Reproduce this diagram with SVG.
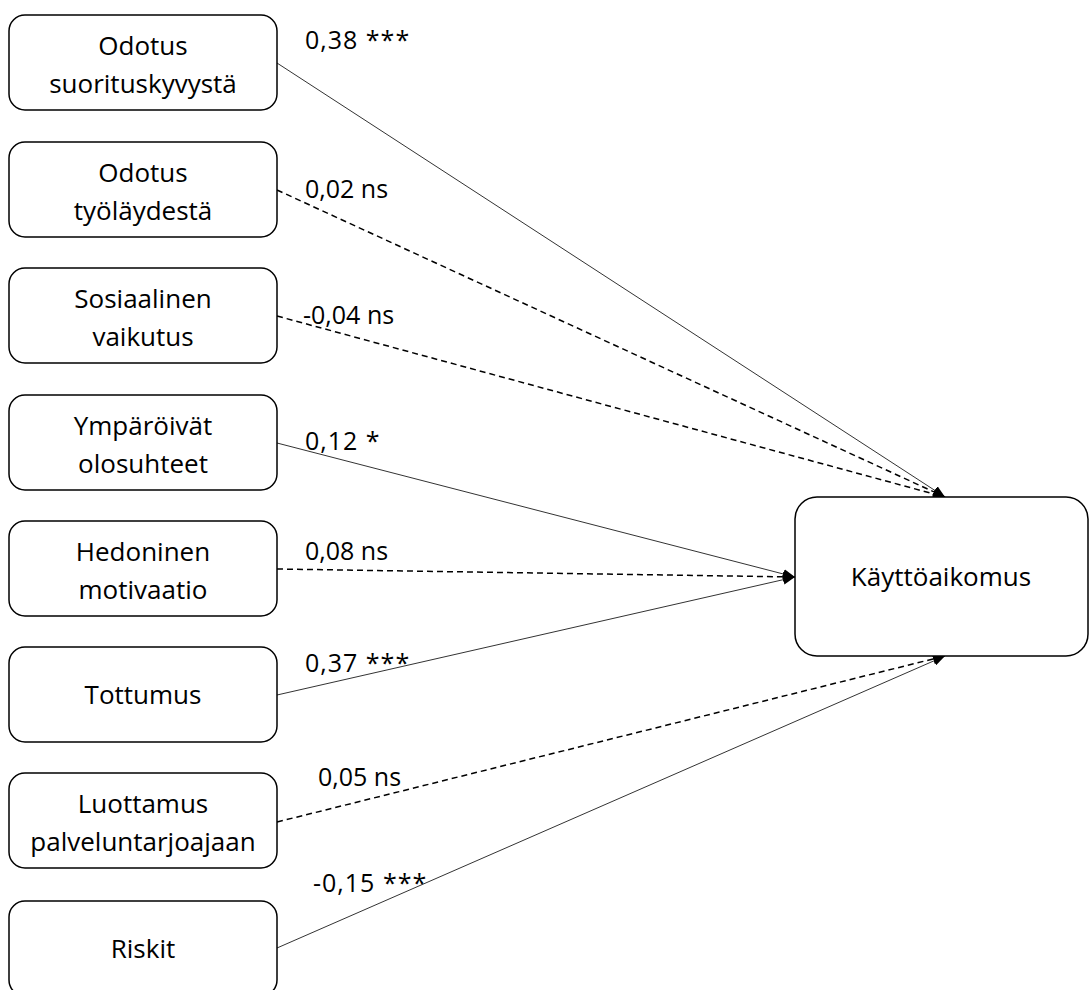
<svg xmlns="http://www.w3.org/2000/svg" width="1089" height="990" viewBox="0 0 1089 990">
<style>
.box{fill:#fff;stroke:#000;stroke-width:1.5}
.t{font-family:"Open Sans","Liberation Sans",sans-serif;font-size:26px;fill:#000;text-anchor:middle}
.l{font-family:"Open Sans","Liberation Sans",sans-serif;font-size:25px;fill:#000}
.s{fill:none;stroke:#333;stroke-width:1;marker-end:url(#ah)}
.d{fill:none;stroke:#000;stroke-width:1.5;stroke-dasharray:6 4;marker-end:url(#ah)}
</style>
<defs>
<marker id="ah" markerUnits="userSpaceOnUse" markerWidth="12" markerHeight="10" refX="12" refY="5" orient="auto">
<path d="M0,0 L12,5 L0,10 Z" fill="#000"/>
</marker>
</defs>
<rect width="1089" height="990" fill="#fff"/>
<g id="connectors">
<line class="s" x1="277" y1="63" x2="945" y2="497"/>
<line class="d" x1="277" y1="190" x2="945" y2="497"/>
<line class="d" x1="277" y1="316" x2="945" y2="497"/>
<line class="s" x1="277" y1="443" x2="795" y2="577"/>
<line class="d" x1="277" y1="569" x2="795" y2="577"/>
<line class="s" x1="277" y1="695" x2="795" y2="577"/>
<line class="d" x1="277" y1="822" x2="945" y2="656"/>
<line class="s" x1="277" y1="948" x2="945" y2="656"/>
</g>
<g id="labels">
<text class="l" x="305" y="49" letter-spacing="1">0,38 ***</text>
<text class="l" x="305" y="198">0,02 ns</text>
<text class="l" x="303" y="324">-0,04 ns</text>
<text class="l" x="305" y="450" letter-spacing="1">0,12 *</text>
<text class="l" x="305" y="560">0,08 ns</text>
<text class="l" x="305" y="672" letter-spacing="1">0,37 ***</text>
<text class="l" x="318" y="786">0,05 ns</text>
<text class="l" x="313" y="892" letter-spacing="1">-0,15 ***</text>
</g>
<g id="n1"><rect class="box" x="9" y="15" width="268" height="95" rx="16"/><text class="t" x="143" y="55">Odotus</text><text class="t" x="143" y="93">suorituskyvystä</text></g>
<g id="n2"><rect class="box" x="9" y="142" width="268" height="95" rx="16"/><text class="t" x="143" y="182">Odotus</text><text class="t" x="143" y="220">työläydestä</text></g>
<g id="n3"><rect class="box" x="9" y="268" width="268" height="95" rx="16"/><text class="t" x="143" y="308">Sosiaalinen</text><text class="t" x="143" y="346">vaikutus</text></g>
<g id="n4"><rect class="box" x="9" y="395" width="268" height="95" rx="16"/><text class="t" x="143" y="435">Ympäröivät</text><text class="t" x="143" y="473">olosuhteet</text></g>
<g id="n5"><rect class="box" x="9" y="521" width="268" height="95" rx="16"/><text class="t" x="143" y="561">Hedoninen</text><text class="t" x="143" y="599">motivaatio</text></g>
<g id="n6"><rect class="box" x="9" y="647" width="268" height="95" rx="16"/><text class="t" x="143" y="704">Tottumus</text></g>
<g id="n7"><rect class="box" x="9" y="773" width="268" height="95" rx="16"/><text class="t" x="143" y="813">Luottamus</text><text class="t" x="143" y="851">palveluntarjoajaan</text></g>
<g id="n8"><rect class="box" x="9" y="901" width="268" height="95" rx="16"/><text class="t" x="143" y="958">Riskit</text></g>
<g id="n9"><rect class="box" x="795" y="497" width="293" height="159" rx="22"/><text class="t" x="941" y="586">Käyttöaikomus</text></g>
</svg>
